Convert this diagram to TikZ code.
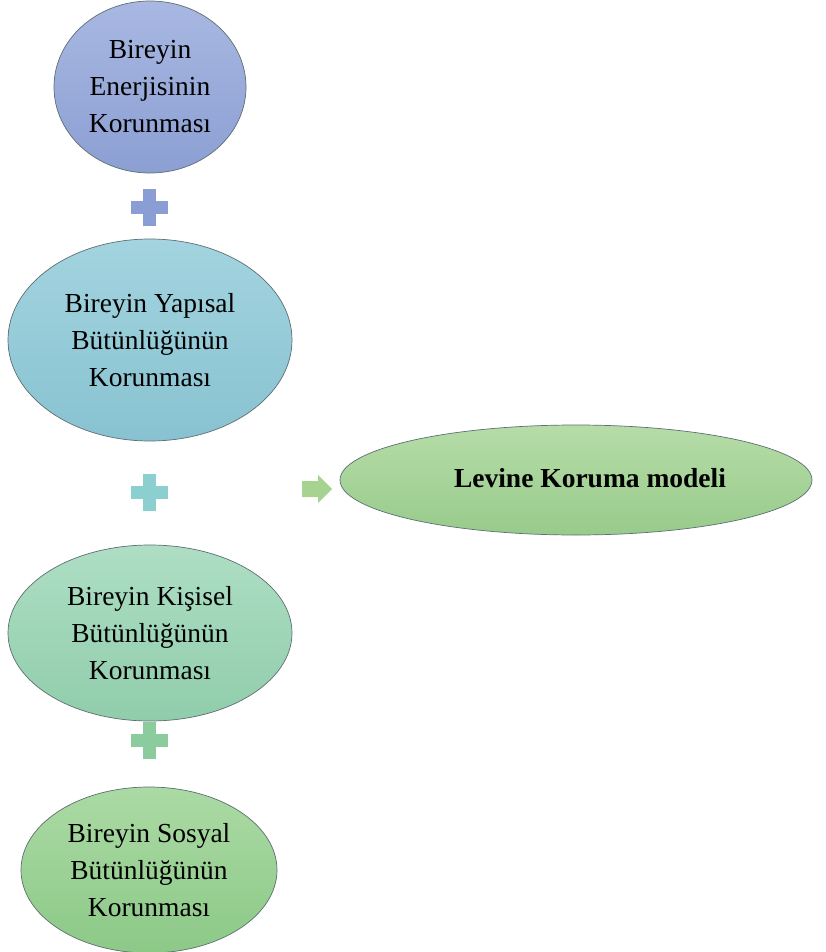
\documentclass[tikz,border=0pt]{standalone}
\usepackage{fontspec}
\setmainfont{Liberation Serif}
\usetikzlibrary{shapes.geometric}
\definecolor{eA1}{HTML}{A8B8E2}\definecolor{eA2}{HTML}{8C9FD3}
\definecolor{eB1}{HTML}{A3D4DF}\definecolor{eB2}{HTML}{88C2D1}
\definecolor{eC1}{HTML}{AEDEC4}\definecolor{eC2}{HTML}{90CDAB}
\definecolor{eD1}{HTML}{ABDAA4}\definecolor{eD2}{HTML}{8CC987}
\definecolor{eE1}{HTML}{B6DCA8}\definecolor{eE2}{HTML}{98CB8B}
\definecolor{pA}{HTML}{8A9ED5}\definecolor{pB}{HTML}{8CCFD0}\definecolor{pC}{HTML}{8CCB9E}
\definecolor{arr}{HTML}{A6D490}
\definecolor{edge}{HTML}{5E6E72}
\tikzset{
  oval/.style={ellipse, draw=edge, line width=0.7pt, inner sep=0pt, align=center,
    font=\fontsize{27.5}{37}\selectfont},
}
\newcommand{\plusat}[3]{% x, y, colour
  \fill[#3] (#1-18.5,#2-6.5) rectangle (#1+18.5,#2+6.5);
  \fill[#3] (#1-6.5,#2-18.5) rectangle (#1+6.5,#2+18.5);}
\begin{document}
\begin{tikzpicture}[x=1pt,y=-1pt]
\useasboundingbox (0,0) rectangle (826,952);
\node[oval, minimum width=192pt, minimum height=172pt, top color=eA1, bottom color=eA2] (e1) at (150,87) {Bireyin\\Enerjisinin\\Korunması};
\node[oval, minimum width=284pt, minimum height=202pt, top color=eB1, bottom color=eB2] (e2) at (150,340) {Bireyin Yapısal\\Bütünlüğünün\\Korunması};
\node[oval, minimum width=284pt, minimum height=176pt, top color=eC1, bottom color=eC2] (e3) at (150,633) {Bireyin Kişisel\\Bütünlüğünün\\Korunması};
\node[oval, minimum width=256pt, minimum height=166pt, top color=eD1, bottom color=eD2] (e4) at (149,870) {Bireyin Sosyal\\Bütünlüğünün\\Korunması};
\node[oval, minimum width=472pt, minimum height=110pt, top color=eE1, bottom color=eE2] (e5) at (576,480) {};
\node[font=\fontsize{27.5}{37}\selectfont\bfseries] (t5) at (590,478) {Levine Koruma modeli};
\plusat{149}{207}{pA}
\plusat{149}{492}{pB}
\plusat{149}{740}{pC}
\fill[arr] (302,481) -- (318,481) -- (318,475) -- (332,489) -- (318,503) -- (318,497) -- (302,497) -- cycle;
\end{tikzpicture}
\end{document}
